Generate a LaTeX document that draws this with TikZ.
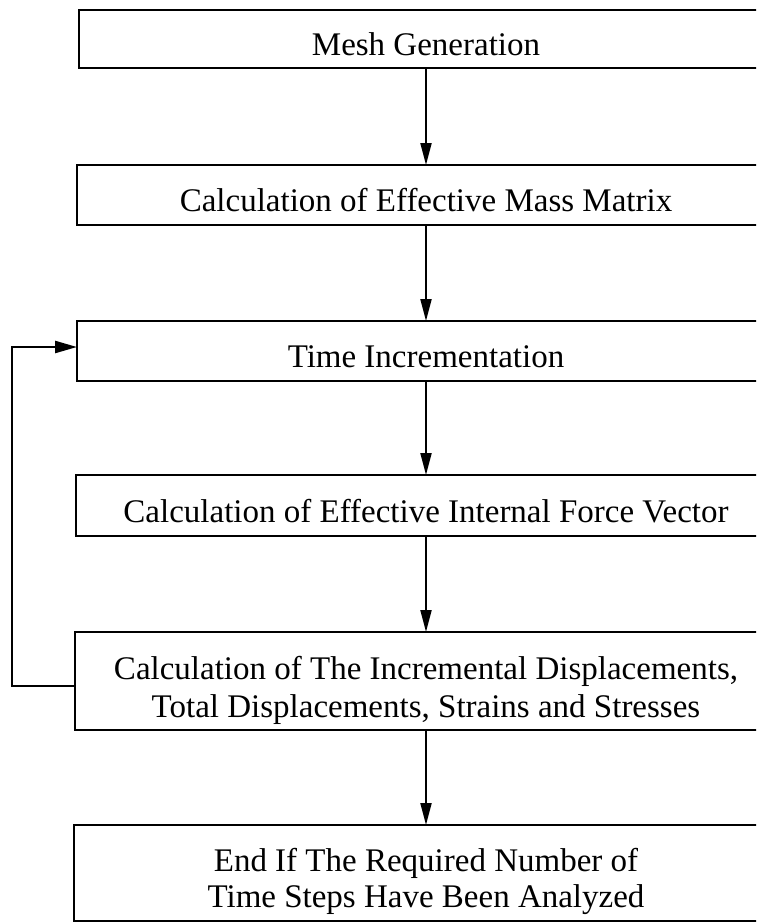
\documentclass[tikz,border=0pt]{standalone}
\usepackage{fontspec}
\setmainfont{Liberation Serif}
\usetikzlibrary{arrows.meta}
\begin{document}
\begin{tikzpicture}[x=1pt,y=-1pt,
  box/.style={draw=black, line width=2.6pt, rectangle, inner sep=0pt, outer sep=0pt,
    font=\fontsize{33}{38}\selectfont, text height=33pt, text depth=0pt, align=center},
  flow/.style={line width=2pt, -{Triangle[length=22pt,width=11pt]}},
  loopline/.style={line width=2.4pt, -{Triangle[length=22pt,width=12pt]}}]
\useasboundingbox (0,0) rectangle (756,923);
\fill[white] (0,0) rectangle (756,923);
\clip (0,0) rectangle (756,923);

\node[box, minimum width=694pt, minimum height=58pt] (b1) at (426,39) {Mesh Generation};
\node[box, minimum width=698pt, minimum height=60pt] (b2) at (426,195) {Calculation of Effective Mass Matrix};
\node[box, minimum width=698pt, minimum height=60pt] (b3) at (426,351) {Time Incrementation};
\node[box, minimum width=700pt, minimum height=61pt] (b4) at (426,505.5) {Calculation of Effective Internal Force Vector};
\node[box, minimum width=702pt, minimum height=98pt, text height=72pt, text depth=0pt] (b5) at (426,681)
  {Calculation of The Incremental Displacements,\\ Total Displacements, Strains and Stresses};
\node[box, minimum width=704pt, minimum height=96pt, text height=68pt, text depth=0pt,
  font=\fontsize{33}{36}\selectfont] (b6) at (426,873)
  {End If The Required Number of\\ Time Steps Have Been Analyzed};

\draw[flow] (b1) -- (b2);
\draw[flow] (b2) -- (b3);
\draw[flow] (b3) -- (b4);
\draw[flow] (b4) -- (b5);
\draw[flow] (b5) -- (b6);
\draw[loopline] ([yshift=-5pt]b5.west) -- ++(-63,0) |- ([yshift=4pt]b3.west);
\end{tikzpicture}
\end{document}
